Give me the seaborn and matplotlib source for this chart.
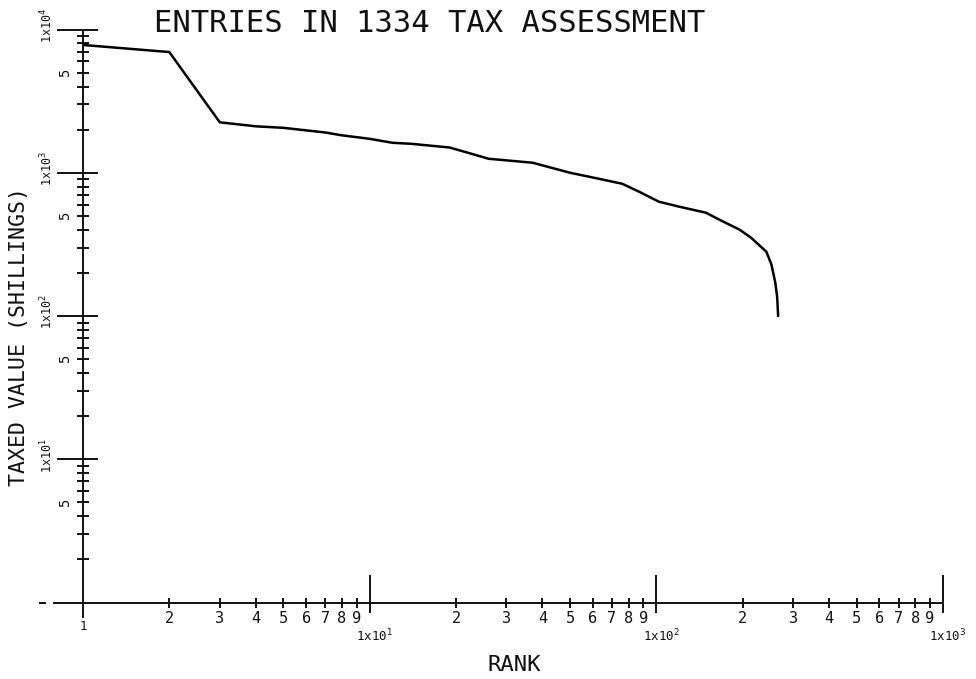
import matplotlib
matplotlib.use("Agg")
import matplotlib.pyplot as plt
from matplotlib.lines import Line2D
from matplotlib.transforms import IdentityTransform
import pandas as pd
import seaborn as sns

# Rank-ordered taxed values (shillings)
rank = [1, 2, 3, 4, 5, 7, 8, 10, 12, 14, 19, 22, 26, 37, 50, 63, 76, 87, 102, 120, 149,
        166, 195, 214, 242, 252, 260, 264, 266]
value = [7800, 6960, 2250, 2110, 2059, 1910, 1825, 1725, 1619, 1592, 1500, 1380, 1252, 1175,
         1000, 908, 838, 738, 628, 580, 526, 470, 401, 352, 281, 229, 171, 135, 100]

x_decades = [1, 10, 100, 1000]
x_decade_labels = ["1", "1x10$^{1}$", "1x10$^{2}$", "1x10$^{3}$"]
y_decades = [10, 100, 1000, 10000]
y_decade_labels = ["1x10$^{1}$", "1x10$^{2}$", "1x10$^{3}$", "1x10$^{4}$"]
minor_digits = [2, 3, 4, 5, 6, 7, 8, 9]

title = "ENTRIES IN 1334 TAX ASSESSMENT"
x_title = "RANK"
y_title = "TAXED VALUE (SHILLINGS)"

sns.set_style("white")
plt.rcParams["font.family"] = ["DejaVu Sans Mono", "DejaVu Sans"]
plt.rcParams["mathtext.fontset"] = "dejavusans"

W, H = 976, 679
fig = plt.figure(figsize=(W / 100, H / 100), dpi=100)
ax = fig.add_axes([83 / W, 1 - 602.5 / H, (943 - 83) / W, (602.5 - 29.5) / H])

df = pd.DataFrame({"rank": rank, "value": value})
sns.lineplot(data=df, x="rank", y="value", ax=ax, color="black", linewidth=1.8,
             estimator=None, sort=False)
ax.set_xscale("log")
ax.set_yscale("log")
ax.set_xlim(x_decades[0], x_decades[-1])
ax.set_ylim(1, y_decades[-1])
ax.axis("off")

ink = "#111111"
LW = 1.4


def to_img(x, y):
    """Data point -> image pixel (origin top-left)."""
    X, Y = ax.transData.transform((x, y))
    return X, H - Y


def seg(x0, y0, x1, y1, lw=LW):
    fig.add_artist(Line2D([x0, x1], [H - y0, H - y1], transform=IdentityTransform(),
                          color=ink, linewidth=lw, solid_capstyle="butt"))


def label(x, y, s, size, rotation=0, ha="center", va="center"):
    fig.text(x / W, 1 - y / H, s, fontsize=size, rotation=rotation, ha=ha, va=va,
             color=ink, family=["DejaVu Sans Mono", "DejaVu Sans"])


X0, Ybase = to_img(1, 1)
Xend, _ = to_img(x_decades[-1], 1)
_, Ytop = to_img(1, y_decades[-1])

# axis lines
seg(X0, Ytop, X0, Ybase + 15)
seg(X0 - 30, Ybase, Xend, Ybase)
seg(X0 - 44, Ybase, X0 - 37, Ybase)

# y axis ticks and labels
for v, s in zip(y_decades, y_decade_labels):
    _, Y = to_img(1, v)
    seg(X0 - 26, Y, X0 + 15, Y)
    label(X0 - 36, Y - 4, s, 8.5, rotation=90)
for base in [1, 10, 100, 1000]:
    for d in minor_digits:
        _, Y = to_img(1, base * d)
        seg(X0 - 6, Y, X0 + 6, Y)
        if d == 5:
            label(X0 - 18, Y, "5", 10, rotation=90)

# x axis ticks and labels
for v, s in zip(x_decades, x_decade_labels):
    X, _ = to_img(v, 1)
    if v != 1:
        seg(X, Ybase - 28, X, Ybase + 10)
        label(X + 5, Ybase + 33, s, 9)
    else:
        label(X, Ybase + 24, s, 9)
for base in [1, 10, 100]:
    for d in minor_digits:
        X, _ = to_img(base * d, 1)
        seg(X, Ybase - 5, X, Ybase + 5)
        label(X, Ybase + 16, str(d), 11)

# titles
label(430, 23, title, 22)
label(514, 665, x_title, 16)
label(19, 337, y_title, 15.5, rotation=90)

fig.savefig("out.png", dpi=100, facecolor="white")
